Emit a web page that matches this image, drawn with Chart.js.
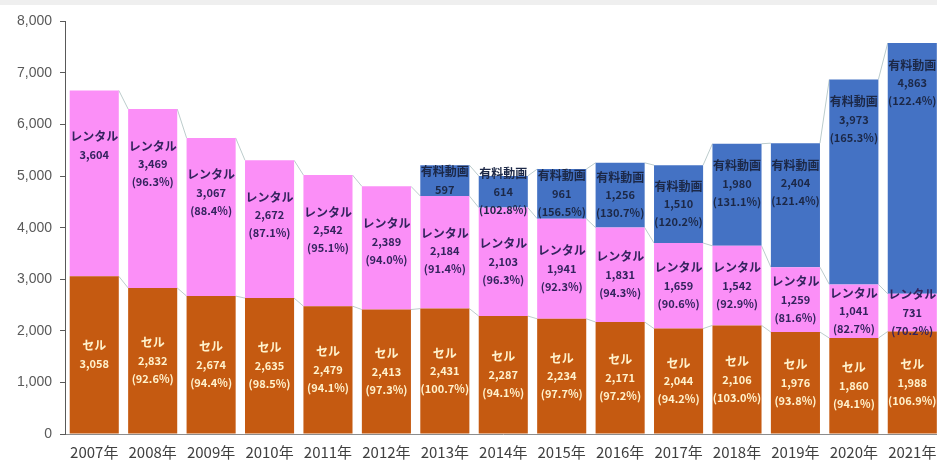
<!DOCTYPE html>
<html>
<head>
<meta charset="utf-8">
<script src="https://cdn.jsdelivr.net/npm/chart.js@4"></script>
<style>
  html, body { margin: 0; padding: 0; background: #efefef; overflow: hidden; }
  #wrap { position: absolute; left: 0; top: 5px; width: 945px; height: 461px; background: #fff; }
</style>
</head>
<body>
<div id="wrap"><canvas id="chart" width="945" height="461"></canvas></div>
<script>
const years = ['2007年', '2008年', '2009年', '2010年', '2011年', '2012年', '2013年', '2014年',
    '2015年', '2016年', '2017年', '2018年', '2019年', '2020年', '2021年'];
const sell = [3058, 2832, 2674, 2635, 2479, 2413, 2431, 2287, 2234, 2171, 2044, 2106, 1976, 1860, 1988];
const rental = [3604, 3469, 3067, 2672, 2542, 2389, 2184, 2103, 1941, 1831, 1659, 1542, 1259, 1041, 731];
const paid = [null, null, null, null, null, null, 597, 614, 961, 1256, 1510, 1980, 2404, 3973, 4863];
const yTicks = [0, 1000, 2000, 3000, 4000, 5000, 6000, 7000, 8000];

const fontJP = '"Noto Sans CJK JP", "Noto Sans", sans-serif';

// 前年比 (%) の文字列
function pct(arr, i) {
    if (i === 0 || arr[i - 1] == null || arr[i] == null) return null;
    return '(' + (arr[i] / arr[i - 1] * 100).toFixed(1) + '%)';
}

// 系列線（棒の上端どうしを結ぶ線）
const seriesLines = {
    id: 'seriesLines',
    beforeDatasetsDraw(chart) {
        const ctx = chart.ctx;
        ctx.save();
        ctx.strokeStyle = '#bccccc';
        ctx.lineWidth = 1;
        chart.data.datasets.forEach((ds, di) => {
            const bars = chart.getDatasetMeta(di).data;
            for (let i = 0; i < bars.length - 1; i++) {
                if (ds.data[i] == null || ds.data[i + 1] == null) continue;
                const a = bars[i], b = bars[i + 1];
                ctx.beginPath();
                ctx.moveTo(a.x + a.width / 2, a.y);
                ctx.lineTo(b.x - b.width / 2, b.y);
                ctx.stroke();
            }
        });
        ctx.restore();
    }
};

// 棒の中のラベル
const segLabels = {
    id: 'segLabels',
    afterDatasetsDraw(chart) {
        const ctx = chart.ctx;
        ctx.save();
        ctx.textAlign = 'center';
        ctx.textBaseline = 'middle';
        const lh = 18;
        chart.data.datasets.forEach((ds, di) => {
            const bars = chart.getDatasetMeta(di).data;
            bars.forEach((bar, i) => {
                const v = ds.data[i];
                if (v == null) return;
                const lines = [ds.label, v.toLocaleString('en-US')];
                const p = pct(ds.data, i);
                if (p) lines.push(p);
                const top = bar.y, mid = (bar.y + bar.base) / 2;
                let cy = mid;
                if (di === 1) cy = Math.min(mid, top + 55);
                if (di === 2) cy = Math.min(mid, top + 40);
                ctx.fillStyle = ds.textColor;
                const y0 = cy - (lines.length - 1) * lh / 2;
                lines.forEach((t, k) => {
                    ctx.font = (k === 0 ? 'bold 12px ' : 'bold 11px ') + fontJP;
                    ctx.fillText(t, bar.x, y0 + k * lh);
                });
            });
        });
        ctx.restore();
    }
};

new Chart(document.getElementById('chart'), {
    type: 'bar',
    data: {
        labels: years,
        datasets: [
            { label: 'セル', data: sell, backgroundColor: '#c55a11', textColor: '#fff2cc' },
            { label: 'レンタル', data: rental, backgroundColor: '#fb8ff7', textColor: '#33235e' },
            { label: '有料動画', data: paid, backgroundColor: '#4472c4', textColor: '#1c2847' }
        ]
    },
    options: {
        responsive: false,
        animation: false,
        layout: { padding: { top: 10, right: 3.5, left: 9, bottom: 4 } },
        datasets: { bar: { categoryPercentage: 1, barPercentage: 0.84 } },
        scales: {
            x: {
                stacked: true,
                grid: { display: false },
                border: { display: true, color: '#8c8c8c', width: 1 },
                ticks: { color: '#404040', font: { size: 15, family: fontJP }, padding: 1 }
            },
            y: {
                stacked: true,
                min: 0,
                max: 8000,
                afterBuildTicks: axis => { axis.ticks = yTicks.map(v => ({ value: v })); },
                grid: { drawOnChartArea: false, tickLength: 5, color: '#595959' },
                border: { display: true, color: '#595959', width: 1 },
                ticks: {
                    color: '#595959',
                    font: { size: 14, family: '"Liberation Sans", sans-serif' },
                    padding: 8,
                    callback: v => v.toLocaleString('en-US')
                }
            }
        },
        plugins: {
            legend: { display: false },
            tooltip: { enabled: false }
        }
    },
    plugins: [seriesLines, segLabels]
});
</script>
</body>
</html>
